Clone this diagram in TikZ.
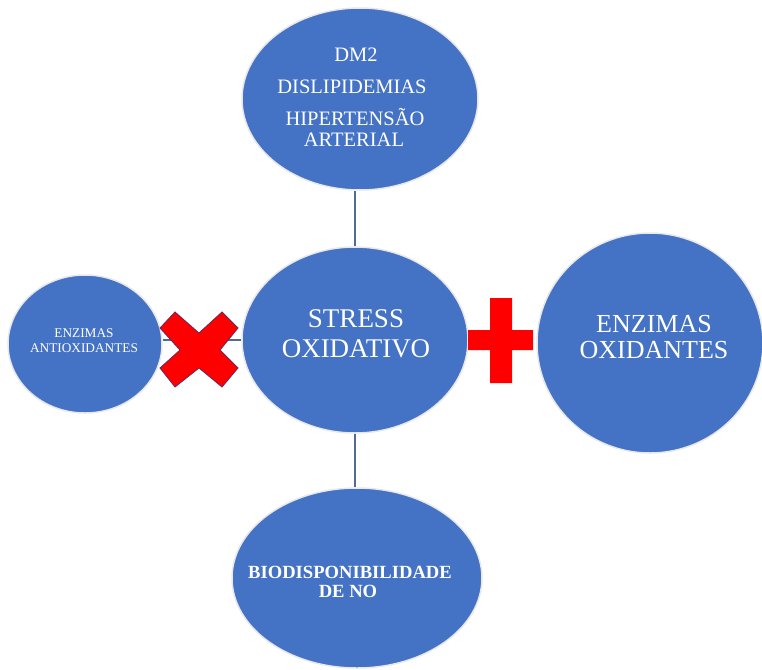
\documentclass[tikz,border=0pt]{standalone}
\usepackage{fontspec}
\setmainfont{Liberation Serif}
\usetikzlibrary{shapes.geometric}
\definecolor{blobblue}{HTML}{4472C4}
\definecolor{linkblue}{RGB}{84,106,150}
\definecolor{signred}{HTML}{FF0000}
\definecolor{crossedge}{RGB}{105,40,85}
\begin{document}
\begin{tikzpicture}[x=1pt,y=-1pt,
  blob/.style={ellipse, fill=blobblue, draw=white!82!gray, line width=1.5pt, inner sep=0pt},
  lbl/.style={text=white, inner sep=0pt, anchor=base},
  link/.style={draw=linkblue, line width=1.6pt},
  topfont/.style={font=\fontsize{20.5}{24}\selectfont},
  midfont/.style={font=\fontsize{27}{30}\selectfont},
  rightfont/.style={font=\fontsize{26}{28}\selectfont},
  leftfont/.style={font=\fontsize{13.3}{15}\selectfont},
  botfont/.style={font=\fontsize{18.6}{20}\selectfont\bfseries}]
\useasboundingbox (0,0) rectangle (762,669);

% blobs
\node[blob, minimum width=236pt, minimum height=182pt] (top) at (360,99) {};
\node[blob, minimum width=226pt, minimum height=186pt] (mid) at (355,340) {};
\node[blob, minimum width=250pt, minimum height=180pt] (bot) at (357,578) {};
\node[blob, minimum width=154pt, minimum height=138pt] (left) at (85,344) {};
\node[blob, minimum width=226pt, minimum height=220pt] (right) at (650,343) {};

% connectors
\draw[link] (mid.north) -- (mid.north |- top.south);
\draw[link] (mid.south) -- (mid.south |- bot.north);
\draw[link] (mid.west) -- (mid.west -| left.east);

% labels
\node[lbl, topfont] (t1) at (356,62) {DM2};
\node[lbl, topfont] (t2) at (352,93) {DISLIPIDEMIAS};
\node[lbl, topfont] (t3) at (355,125) {HIPERTENSÃO};
\node[lbl, topfont] (t4) at (354,146) {ARTERIAL};

\node[lbl, midfont] (m1) at (356,327) {STRESS};
\node[lbl, midfont] (m2) at (356,357) {OXIDATIVO};

\node[lbl, rightfont] (r1) at (654,332) {ENZIMAS};
\node[lbl, rightfont] (r2) at (654,358) {OXIDANTES};

\node[lbl, leftfont] (l1) at (84,337) {ENZIMAS};
\node[lbl, leftfont] (l2) at (84,352) {ANTIOXIDANTES};

\node[lbl, botfont] (b1) at (350,578) {BIODISPONIBILIDADE};
\node[lbl, botfont] (b2) at (348,597) {DE NO};

% red multiplication sign
\filldraw[fill=signred, draw=crossedge, line width=0.8pt, line join=miter]
  (175,312) -- (199,333) -- (222,312) -- (238,328) -- (220,350) -- (238,368)
  -- (222,387) -- (199,368) -- (175,387) -- (160,368) -- (180,350) -- (160,328) -- cycle;

% red plus sign
\fill[signred]
  (490,298) -- (512,298) -- (512,330) -- (533,330) -- (533,350) -- (512,350)
  -- (512,383) -- (490,383) -- (490,350) -- (468,350) -- (468,330) -- (490,330) -- cycle;
\end{tikzpicture}
\end{document}
